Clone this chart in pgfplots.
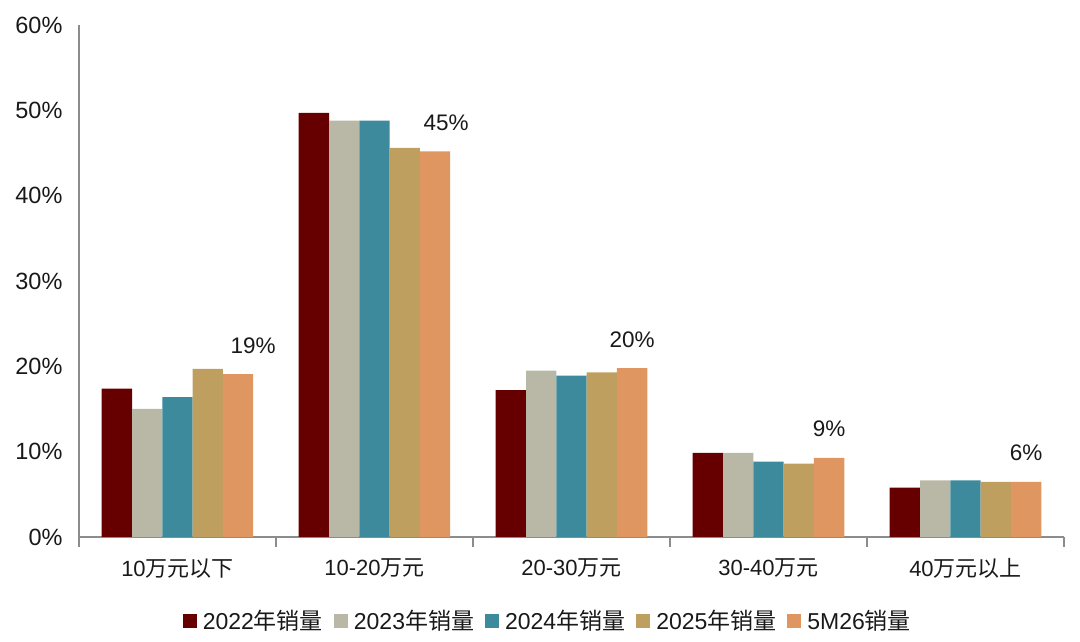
\documentclass[border=0pt]{standalone}
\usepackage{pgfplots}
\usepackage{pgfplotstable}
\pgfplotsset{compat=1.18}
\usepackage{fontspec}
\setmainfont{Liberation Sans}
\newfontfamily\cjk{Noto Sans CJK SC}
\definecolor{cA}{HTML}{660000}
\definecolor{cB}{HTML}{B9B8A6}
\definecolor{cC}{HTML}{3C8A9C}
\definecolor{cD}{HTML}{BF9F5F}
\definecolor{cE}{HTML}{DF9660}
\definecolor{axgray}{HTML}{8C8C8C}
\pgfplotstableread{
x y
0 17.4
1 49.7
2 17.2
3 9.85
4 5.8
}\tA
\pgfplotstableread{
x y
0 15.0
1 48.8
2 19.5
3 9.85
4 6.65
}\tB
\pgfplotstableread{
x y
0 16.4
1 48.8
2 18.9
3 8.84
4 6.65
}\tC
\pgfplotstableread{
x y
0 19.7
1 45.6
2 19.3
3 8.6
4 6.45
}\tD
\pgfplotstableread{
x y dx
0 19.1 15
1 45.2 11
2 19.8 0
3 9.26 0
4 6.45 0
}\tE
\begin{document}
\begin{tikzpicture}
\path[use as bounding box] (-79pt,-105pt) rectangle (1001pt,537pt);
\begin{axis}[
  scale only axis, width=985pt, height=512pt,
  xmin=-0.5, xmax=4.5, ymin=0, ymax=60,
  ybar=0pt, bar width=30.3pt,
  axis x line*=bottom, axis y line*=left,
  axis line style={draw=axgray, line width=1.2pt},
  major tick length=0pt,
  xtick={0,1,2,3,4},
  xticklabels={{10{\cjk 万元以下}},{10-20{\cjk 万元}},{20-30{\cjk 万元}},{30-40{\cjk 万元}},{40{\cjk 万元以上}}},
  extra x ticks={-0.5,0.5,1.5,2.5,3.5,4.5},
  extra x tick labels={},
  extra x tick style={major tick length=10pt, tick align=outside, tick style={draw=axgray, line width=1.2pt}},
  ytick={0,10,20,30,40,50,60},
  yticklabels={0\%,10\%,20\%,30\%,40\%,50\%,60\%},
  x tick label style={font=\fontsize{22}{26}\selectfont, text=black!90, yshift=-18pt},
  y tick label style={font=\fontsize{23.5}{26}\selectfont, text=black!90, xshift=-13pt},
  /pgf/number format/assume math mode=true,
  clip=false,
  legend style={at={(0.476,-0.164)}, anchor=center, draw=none, fill=none,
    legend columns=5, font=\fontsize{23}{26}\selectfont, text=black!90,
    /tikz/every odd column/.append style={column sep=4pt},
    /tikz/every even column/.append style={column sep=9pt}},
  legend image code/.code={\fill[#1] (0pt,-7pt) rectangle (14pt,7pt);},
]
\addplot[fill=cA, draw=none] table[x=x,y=y] {\tA};
\addlegendentry{2022{\cjk 年销量}}
\addplot[fill=cB, draw=none] table[x=x,y=y] {\tB};
\addlegendentry{2023{\cjk 年销量}}
\addplot[fill=cC, draw=none] table[x=x,y=y] {\tC};
\addlegendentry{2024{\cjk 年销量}}
\addplot[fill=cD, draw=none] table[x=x,y=y] {\tD};
\addlegendentry{2025{\cjk 年销量}}
\addplot[fill=cE, draw=none,
  visualization depends on={\thisrow{dx} \as \dx},
  nodes near coords={\pgfmathprintnumber[fixed,precision=0]{\pgfplotspointmeta}\%},
  every node near coord/.append style={anchor=base, yshift=21pt, xshift=\dx pt,
    font=\fontsize{22.5}{26}\selectfont, text=black!90}
] table[x=x,y=y] {\tE};
\addlegendentry{5M26{\cjk 销量}}
\end{axis}
\end{tikzpicture}
\end{document}
